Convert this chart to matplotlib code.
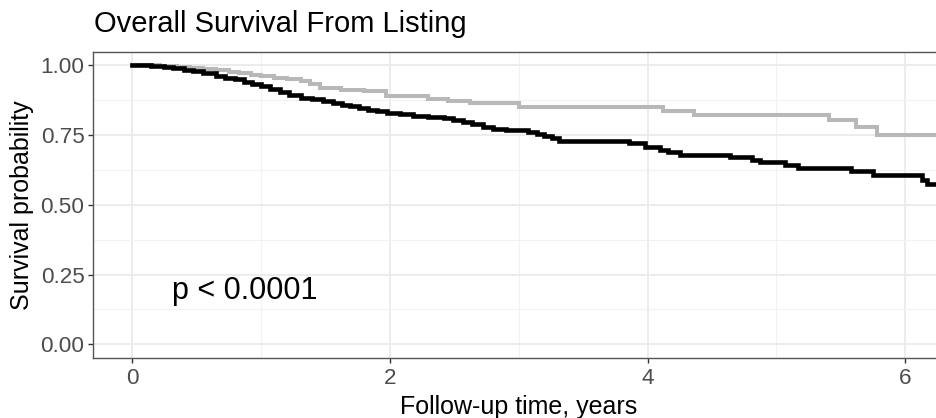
import matplotlib
matplotlib.use("Agg")
import matplotlib.pyplot as plt
import numpy as np

plt.rcParams['font.family'] = ['Liberation Sans', 'DejaVu Sans']

# Step-function survival data (time in years, survival after the step)
black_time = [0.00, 0.15, 0.25, 0.32, 0.40, 0.47, 0.55, 0.65, 0.72, 0.80, 0.87, 0.93,
              1.00, 1.07, 1.15, 1.22, 1.31, 1.40, 1.48, 1.56, 1.63, 1.69, 1.76, 1.83,
              1.90, 1.98, 2.08, 2.18, 2.30, 2.42, 2.49, 2.57, 2.64, 2.72, 2.80, 2.90,
              3.07, 3.14, 3.20, 3.26, 3.31, 3.86, 3.98, 4.10, 4.16, 4.25, 4.64, 4.81,
              4.87, 5.07, 5.17, 5.58, 5.75, 6.13, 6.17, 6.35]
black_surv = [1.000, 0.998, 0.995, 0.990, 0.985, 0.980, 0.972, 0.962, 0.956, 0.950, 0.941, 0.932,
              0.925, 0.915, 0.903, 0.895, 0.885, 0.880, 0.874, 0.866, 0.859, 0.853, 0.846, 0.840,
              0.835, 0.830, 0.826, 0.819, 0.814, 0.810, 0.806, 0.798, 0.790, 0.781, 0.772, 0.768,
              0.763, 0.755, 0.747, 0.738, 0.730, 0.721, 0.709, 0.697, 0.688, 0.679, 0.671, 0.662,
              0.653, 0.644, 0.632, 0.620, 0.608, 0.590, 0.575, 0.575]

gray_time = [0.00, 0.22, 0.35, 0.45, 0.55, 0.65, 0.75, 0.83, 0.92, 1.00, 1.10, 1.20,
             1.31, 1.38, 1.46, 1.62, 1.80, 1.97, 2.30, 2.45, 2.62, 3.00, 4.12, 4.36,
             5.41, 5.62, 5.78, 6.35]
gray_surv = [1.000, 0.997, 0.994, 0.991, 0.987, 0.983, 0.978, 0.974, 0.967, 0.961, 0.955, 0.950,
             0.943, 0.932, 0.919, 0.913, 0.909, 0.890, 0.880, 0.873, 0.866, 0.852, 0.836, 0.823,
             0.803, 0.780, 0.750, 0.750]

x_ticks = [0, 2, 4, 6]
y_ticks = [0.00, 0.25, 0.50, 0.75, 1.00]
y_ticklabels = ["0.00", "0.25", "0.50", "0.75", "1.00"]

W, H = 936, 418
fig = plt.figure(figsize=(W / 100, H / 100), dpi=100)

left_px, right_px = 93.3, 944.0
top_px, bottom_px = 51.5, 358.2
ax = fig.add_axes([left_px / W, 1 - bottom_px / H, (right_px - left_px) / W, (bottom_px - top_px) / H])

ax.set_xlim(-0.3, 6.3)
ax.set_ylim(-0.05, 1.05)

# grid
ax.set_xticks(x_ticks)
ax.set_xticks([1, 3, 5], minor=True)
ax.set_yticks(y_ticks)
ax.set_yticklabels(y_ticklabels)
ax.set_yticks([0.125, 0.375, 0.625, 0.875], minor=True)
ax.grid(True, which='major', color='#EBEBEB', lw=1.3, zorder=0)
ax.grid(True, which='minor', color='#F2F2F2', lw=0.8, zorder=0)
ax.set_axisbelow(True)

ax.step(gray_time, gray_surv, where='post', color='#B8B8B8', lw=2.9, zorder=3,
        solid_joinstyle='miter')
ax.step(black_time, black_surv, where='post', color='black', lw=3.3, zorder=4,
        solid_joinstyle='miter')

for s in ax.spines.values():
    s.set_color('#555555')
    s.set_linewidth(1.0)

ax.tick_params(which='major', length=3.8, width=1.0, color='#333333',
               labelsize=16.2, labelcolor='#4D4D4D')
ax.tick_params(axis='y', pad=2.5)
ax.tick_params(axis='x', pad=3.0)
ax.tick_params(which='minor', length=0)

ax.text(0.31, 0.19, "p < 0.0001", fontsize=22, ha='left', va='center', color='black', zorder=5)

fig.text(93.5 / W, 1 - 32.3 / H, "Overall Survival From Listing", fontsize=21,
         ha='left', va='baseline', color='black')
fig.text(518.5 / W, 1 - 414.3 / H, "Follow-up time, years", fontsize=18,
         ha='center', va='baseline', color='black')
fig.text(29.5 / W, 1 - 205 / H, "Survival probability", fontsize=18, rotation=90,
         rotation_mode='anchor', ha='center', va='baseline', color='black')

fig.savefig("out.png", dpi=100)
